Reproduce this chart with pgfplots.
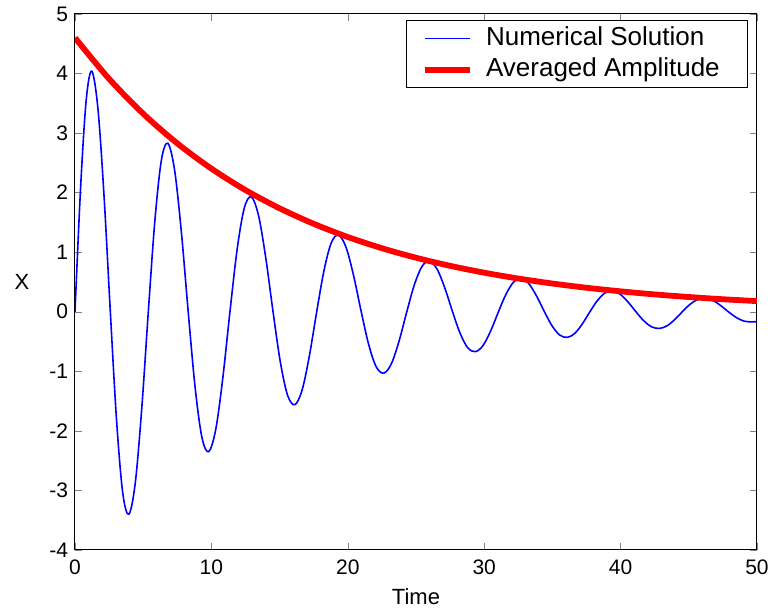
\documentclass[border=0pt]{standalone}
\usepackage{pgfplots}
\pgfplotsset{compat=1.18}
\usepackage{fontspec}
\setmainfont{Liberation Sans}
\begin{document}
\begin{tikzpicture}
\begin{axis}[
  scale only axis,
  width=341pt, height=268pt,
  xmin=0, xmax=50, ymin=-4, ymax=5,
  xtick={0,10,20,30,40,50},
  ytick={-4,-3,-2,-1,0,1,2,3,4,5},
  tick align=inside,
  tick pos=both,
  major tick length=3.5pt,
  /pgf/number format/assume math mode=true,
  ticklabel style={font=\fontsize{10.5}{12}\selectfont},
  xticklabel style={yshift=-1.5pt},
  xlabel={Time}, ylabel={X},
  xlabel style={font=\fontsize{11}{13}\selectfont, at={(axis description cs:0.5,0)}, anchor=center, yshift=-23.5pt},
  ylabel style={font=\fontsize{11}{13}\selectfont, at={(axis description cs:0,0.5)}, anchor=center, rotate=-90, xshift=-26.5pt},
  axis line style={black, line width=0.5pt},
  legend style={at={(0.9868,0.9885)}, anchor=north east, draw=black, line width=0.5pt,
    font=\fontsize{13}{15}\selectfont, row sep=0pt, inner xsep=7.7pt, inner ysep=1.25pt,
    nodes={inner ysep=1.65pt, text height=9.5pt, text depth=2.7pt},
    /tikz/every odd column/.append style={column sep=4.5pt}},
  legend cell align=left,
  legend image code/.code={\draw[#1] (0pt,0pt) -- (22.5pt,0pt);},
]
\coordinate (SW) at (rel axis cs:0,0);
\coordinate (NE) at (rel axis cs:1,1);
\addplot[blue, line width=0.8pt, smooth, tension=0.55] coordinates {
(0,0) (0.41,2.08) (0.82,3.55) (1.23,4.04)
(1.683,3.406) (2.137,1.913) (2.59,0) (3.043,-1.807) (3.497,-3.037) (3.95,-3.40)
(4.425,-2.862) (4.9,-1.605) (5.375,0) (5.85,1.51) (6.325,2.533) (6.8,2.83)
(7.3,2.382) (7.8,1.335) (8.3,0) (8.8,-1.255) (9.3,-2.104) (9.8,-2.35)
(10.32,-1.974) (10.84,-1.105) (11.36,0) (11.88,1.035) (12.40,1.732) (12.92,1.93)
(13.453,1.618) (13.987,0.903) (14.52,0) (15.053,-0.842) (15.587,-1.404) (16.12,-1.56)
(16.653,-1.312) (17.187,-0.735) (17.72,0) (18.253,0.69) (18.787,1.156) (19.32,1.29)
(19.875,1.080) (20.43,0.602) (20.985,0) (21.54,-0.558) (22.095,-0.929) (22.65,-1.03)
(23.208,-0.866) (23.767,-0.485) (24.325,0) (24.883,0.455) (25.442,0.762) (26.0,0.85)
(26.56,0.710) (27.12,0.395) (27.68,0) (28.24,-0.365) (28.80,-0.606) (29.36,-0.67)
(29.922,-0.564) (30.483,-0.317) (31.045,0) (31.607,0.298) (32.168,0.501) (32.73,0.56)
(33.292,0.466) (33.853,0.258) (34.415,0) (34.977,-0.237) (35.538,-0.391) (36.1,-0.43)
(36.65,-0.361) (37.2,-0.202) (37.75,0) (38.3,0.188) (38.85,0.315) (39.4,0.35)
(39.975,0.293) (40.55,0.163) (41.125,0) (41.70,-0.152) (42.275,-0.253) (42.85,-0.28)
(43.408,-0.235) (43.967,-0.132) (44.525,0) (45.083,0.123) (45.642,0.206) (46.2,0.23)
(46.767,0.191) (47.333,0.105) (47.9,0) (48.467,-0.095) (49.033,-0.156) (49.6,-0.17)
(50,-0.165)
};
\addlegendentry{\makebox[121pt][l]{Numerical Solution}}
\addplot[red, line width=2.9pt, smooth] coordinates {
(0,4.600) (2.5,3.911) (5,3.325) (7.5,2.827) (10,2.403) (12.5,2.043)
(15,1.737) (17.5,1.477) (20,1.255) (22.5,1.067) (25,0.907) (27.5,0.771)
(30,0.656) (32.5,0.558) (35,0.474) (37.5,0.403) (40,0.343) (42.5,0.291)
(45,0.248) (47.5,0.210) (50,0.179)
};
\addlegendentry{\makebox[121pt][l]{Averaged Amplitude}}
\end{axis}
\path ([shift={(-37.5pt,-30.5pt)}]SW) rectangle ([shift={(9.5pt,6pt)}]NE);
\end{tikzpicture}
\end{document}
